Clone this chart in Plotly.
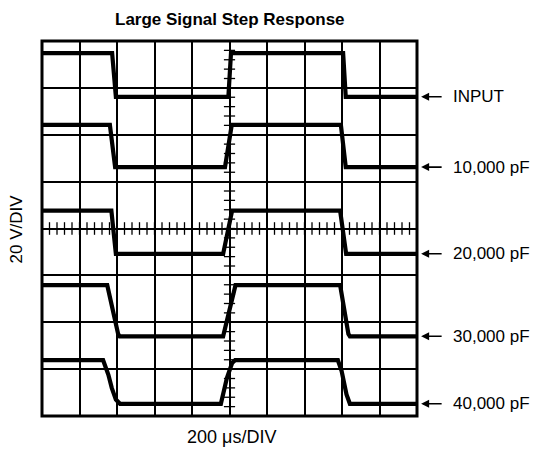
import plotly.graph_objects as go

# ---- data (screen divisions: x 0..10, y 0..8) ----
labels = ["INPUT", "10,000 pF", "20,000 pF", "30,000 pF", "40,000 pF"]

input_t = [0, 1.87, 1.97, 4.97, 5.04, 8.03, 8.10, 10]
input_v = [7.74, 7.74, 6.81, 6.81, 7.74, 7.74, 6.81, 6.81]

c10k_t = [0, 1.81, 1.95, 4.88, 5.06, 7.97, 8.10, 10]
c10k_v = [6.21, 6.21, 5.31, 5.31, 6.21, 6.21, 5.31, 5.31]

c20k_t = [0, 1.85, 1.97, 4.83, 5.07, 7.95, 8.11, 10]
c20k_v = [4.38, 4.38, 3.46, 3.46, 4.38, 4.38, 3.46, 3.46]

c30k_t = [0, 1.74, 2.03, 2.07, 4.83, 5.12, 5.16, 7.95, 8.17, 8.21, 10]
c30k_v = [2.79, 2.79, 1.75, 1.70, 1.70, 2.74, 2.79, 2.79, 1.75, 1.70, 1.70]

c40k_t = [0, 1.63, 1.77, 1.86, 1.97, 2.08, 4.77, 4.93, 5.07, 5.15, 7.89, 7.99, 8.12, 8.21, 10]
c40k_v = [1.19, 1.19, 0.88, 0.60, 0.35, 0.26, 0.26, 0.81, 1.13, 1.19, 1.19, 0.96, 0.46, 0.26, 0.26]

series_t = [input_t, c10k_t, c20k_t, c30k_t, c40k_t]
series_v = [input_v, c10k_v, c20k_v, c30k_v, c40k_v]

# graticule
x_divs = 10
y_divs = 8
minor_x = [i * 0.2 for i in range(x_divs * 5 + 1)]
minor_y = [i * 0.2 for i in range(y_divs * 5 + 1)]

FONT = "Liberation Sans, Arial, Helvetica, sans-serif"

fig = go.Figure()

# center graticule ticks
fig.add_trace(go.Scatter(x=minor_x, y=[y_divs / 2] * len(minor_x), mode="markers",
                         marker=dict(symbol="line-ns", size=9, line=dict(width=1.3, color="black")),
                         hoverinfo="skip", showlegend=False))
fig.add_trace(go.Scatter(x=[x_divs / 2] * len(minor_y), y=minor_y, mode="markers",
                         marker=dict(symbol="line-ew", size=8, line=dict(width=1.3, color="black")),
                         hoverinfo="skip", showlegend=False))

for t, v in zip(series_t, series_v):
    fig.add_trace(go.Scatter(x=t, y=v, mode="lines",
                             line=dict(color="black", width=4.2),
                             hoverinfo="skip", showlegend=False))

annotations = []
for lab, v in zip(labels, series_v):
    level = v[-1]
    annotations.append(dict(x=1.011, y=level, xref="paper", yref="y", text="",
                            showarrow=True, arrowhead=2, arrowsize=1, arrowwidth=1.6,
                            arrowcolor="black", ax=22, ay=0))
    annotations.append(dict(x=1.091, y=level, xref="paper", yref="y", text=lab,
                            showarrow=False, xanchor="left", yanchor="middle",
                            font=dict(family=FONT, size=17, color="black")))

annotations.append(dict(x=0.5, y=1.058, xref="paper", yref="paper",
                        text="<b>Large Signal Step Response</b>", showarrow=False,
                        xanchor="center", yanchor="middle",
                        font=dict(family=FONT, size=17, color="black")))
annotations.append(dict(x=0.505, y=-0.057, xref="paper", yref="paper",
                        text="200 μs/DIV", showarrow=False,
                        xanchor="center", yanchor="middle",
                        font=dict(family=FONT, size=18, color="black")))
annotations.append(dict(x=-0.067, y=0.5, xref="paper", yref="paper",
                        text="20 V/DIV", showarrow=False, textangle=-90,
                        xanchor="center", yanchor="middle",
                        font=dict(family=FONT, size=17, color="black")))

# the page body adds an 8px margin, so the figure is sized/offset to compensate
fig.update_layout(
    width=535, height=443,
    margin=dict(l=34, r=126, t=33, b=35),
    paper_bgcolor="white", plot_bgcolor="white",
    xaxis=dict(range=[0, x_divs], dtick=1, tick0=0, showgrid=True, gridcolor="black",
               gridwidth=1.6, zeroline=False, showticklabels=False, ticks="", fixedrange=True),
    yaxis=dict(range=[0, y_divs], dtick=1, tick0=0, showgrid=True, gridcolor="black",
               gridwidth=1.6, zeroline=False, showticklabels=False, ticks="", fixedrange=True),
    shapes=[dict(type="rect", xref="paper", yref="paper", x0=0, y0=0, x1=1, y1=1,
                 line=dict(color="black", width=3), layer="above")],
    annotations=annotations,
)

fig.write_html("out.html")
